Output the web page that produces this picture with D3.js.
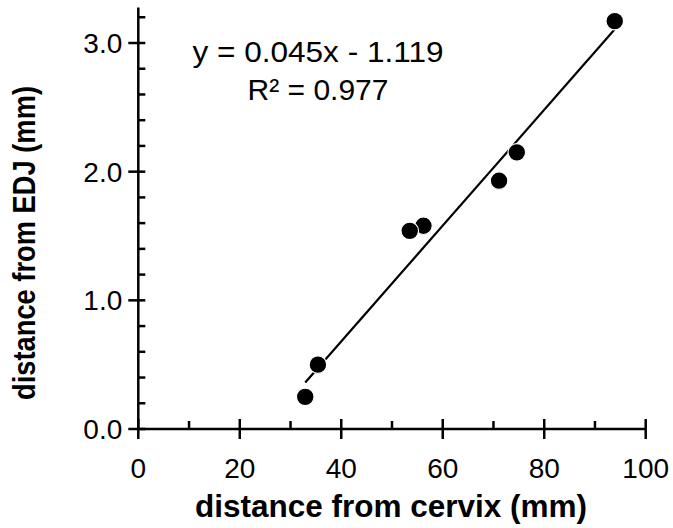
<!DOCTYPE html>
<html><head><meta charset="utf-8">
<script src="https://cdn.jsdelivr.net/npm/d3@7"></script>
<style>body{margin:0;background:#fff}svg{display:block}</style>
</head><body>
<script>
const xValues = [32.9, 35.4, 53.5, 56.2, 71.1, 74.6, 93.9];
const yValues = [0.25, 0.50, 1.54, 1.58, 1.93, 2.15, 3.17];
const xTicks = [0, 20, 40, 60, 80, 100];
const xMinorTicks = [10, 30, 50, 70, 90];
const yTicks = [0, 1, 2, 3];
const yTickLabels = ["0.0", "1.0", "2.0", "3.0"];
const yMinorTicks = [0.2, 0.4, 0.6, 0.8, 1.2, 1.4, 1.6, 1.8, 2.2, 2.4, 2.6, 2.8, 3.2];
const slope = 0.045, intercept = -1.119;
const eqText = "y = 0.045x - 1.119";
const r2Text = "R\u00b2 = 0.977";

const W = 673, H = 528;
const svg = d3.select("body").append("svg").attr("width", W).attr("height", H);
const x = d3.scaleLinear().domain([0, 100]).range([138.3, 645.7]);
const y = d3.scaleLinear().domain([0, 3]).range([429, 43]);
const font = "'Liberation Sans', Arial, sans-serif";
const axW = 2.5;

// X axis
const gx = svg.append("g").attr("transform", `translate(0,${y(0)})`);
gx.append("line").attr("x1", x(0)).attr("x2", x(100)).attr("stroke", "#000").attr("stroke-width", axW);
gx.selectAll(".maj").data(xTicks).join("line")
  .attr("x1", d => x(d)).attr("x2", d => x(d)).attr("y1", -10).attr("y2", 10)
  .attr("stroke", "#000").attr("stroke-width", axW);
gx.selectAll(".min").data(xMinorTicks).join("line")
  .attr("x1", d => x(d)).attr("x2", d => x(d)).attr("y1", -8).attr("y2", 0)
  .attr("stroke", "#000").attr("stroke-width", axW);
gx.selectAll("text").data(xTicks).join("text")
  .attr("x", d => x(d)).attr("y", 49).attr("text-anchor", "middle")
  .attr("font-family", font).attr("font-size", 28).text(d => d);

// Y axis
const gy = svg.append("g").attr("transform", `translate(${x(0)},0)`);
gy.append("line").attr("y1", y(0)).attr("y2", y(3.275)).attr("stroke", "#000").attr("stroke-width", axW);
gy.selectAll(".maj").data(yTicks).join("line")
  .attr("y1", d => y(d)).attr("y2", d => y(d)).attr("x1", -10).attr("x2", 7)
  .attr("stroke", "#000").attr("stroke-width", axW);
gy.selectAll(".min").data(yMinorTicks).join("line")
  .attr("y1", d => y(d)).attr("y2", d => y(d)).attr("x1", 0).attr("x2", 7)
  .attr("stroke", "#000").attr("stroke-width", axW);
gy.selectAll("text").data(yTicks).join("text")
  .attr("x", -16).attr("y", d => y(d)).attr("dy", "0.36em").attr("text-anchor", "end")
  .attr("font-family", font).attr("font-size", 28).text((d, i) => yTickLabels[i]);

// Axis titles
svg.append("text").attr("x", 391).attr("y", 517).attr("text-anchor", "middle")
  .attr("font-family", font).attr("font-weight", "bold").attr("font-size", 31.5)
  .attr("textLength", 392).attr("lengthAdjust", "spacingAndGlyphs")
  .text("distance from cervix (mm)");
svg.append("text").attr("transform", "translate(35,243) rotate(-90)").attr("text-anchor", "middle")
  .attr("font-family", font).attr("font-weight", "bold").attr("font-size", 31.5)
  .attr("textLength", 314).attr("lengthAdjust", "spacingAndGlyphs")
  .text("distance from EDJ (mm)");

// Regression line
const xmin = d3.min(xValues), xmax = d3.max(xValues);
svg.append("line")
  .attr("x1", x(xmin)).attr("y1", y(slope * xmin + intercept))
  .attr("x2", x(xmax)).attr("y2", y(slope * xmax + intercept))
  .attr("stroke", "#000").attr("stroke-width", 2.2);

// Points (drawn in descending x order)
const pts = xValues.map((v, i) => ({x: v, y: yValues[i]})).sort((a, b) => b.x - a.x);
svg.selectAll("circle").data(pts).join("circle")
  .attr("cx", d => x(d.x)).attr("cy", d => y(d.y)).attr("r", 8.8)
  .attr("fill", "#000").attr("stroke", "#fff").attr("stroke-width", 1.2);

// Equation
svg.append("text").attr("x", 318).attr("y", 62).attr("text-anchor", "middle")
  .attr("font-family", font).attr("font-size", 30)
  .attr("textLength", 251).attr("lengthAdjust", "spacingAndGlyphs").text(eqText);
svg.append("text").attr("x", 318).attr("y", 100).attr("text-anchor", "middle")
  .attr("font-family", font).attr("font-size", 30).text(r2Text);
</script>
</body></html>
